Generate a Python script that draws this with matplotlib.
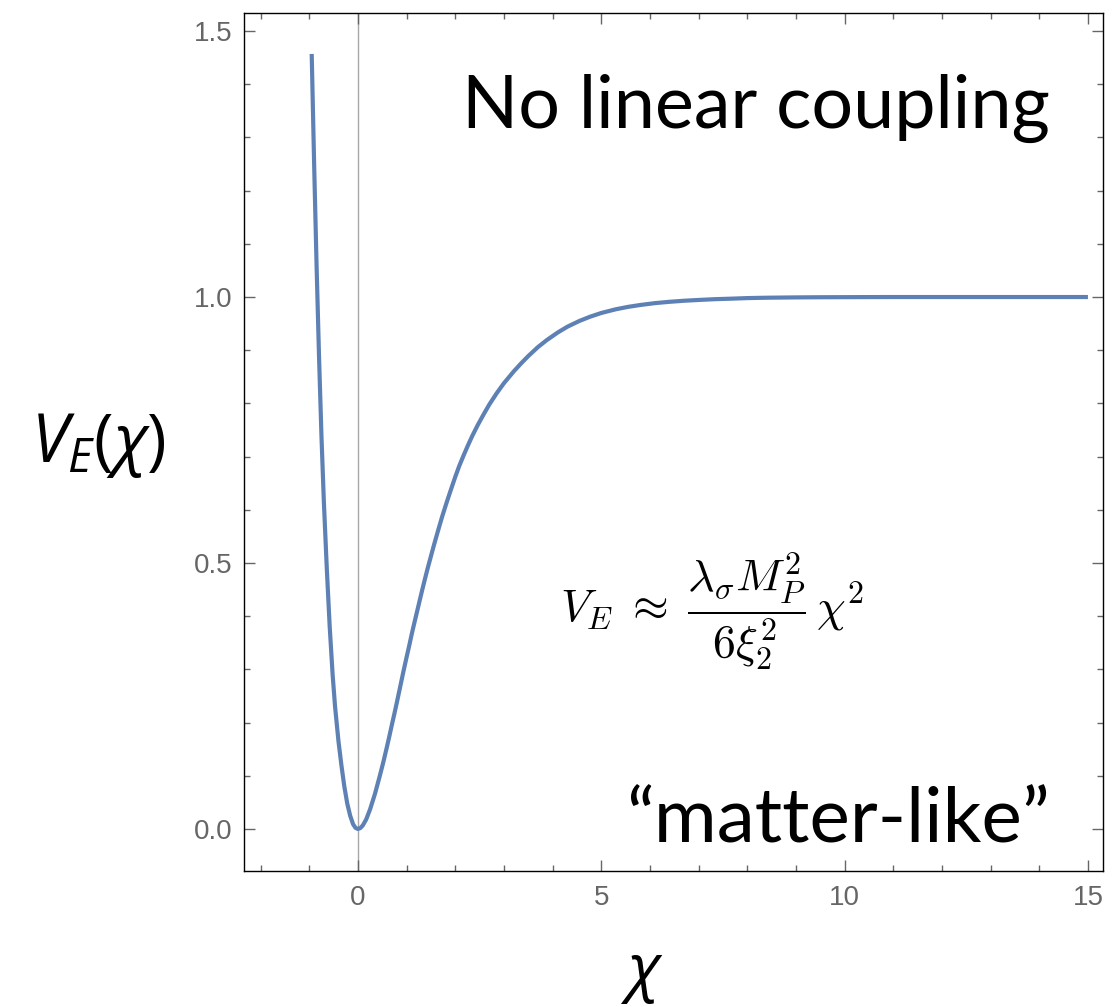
import numpy as np
import matplotlib
matplotlib.use('Agg')
import matplotlib.pyplot as plt
from matplotlib.ticker import MultipleLocator

#%% Potential V_E(chi)
chi = [-0.95, -0.90, -0.85, -0.80, -0.75, -0.70, -0.64, -0.58, -0.52, -0.47,
       -0.40, -0.34, -0.28, -0.22, -0.16, -0.10, -0.05, 0.0, 0.05, 0.10,
       0.17, 0.25, 0.35, 0.45, 0.52, 0.59, 0.65, 0.70, 0.75, 0.80,
       0.87, 0.93, 1.0, 1.05, 1.1, 1.14, 1.2, 1.26, 1.32, 1.38,
       1.43, 1.48, 1.56, 1.65, 1.73, 1.82, 1.9, 2.0, 2.08, 2.17,
       2.26, 2.35, 2.46, 2.58, 2.7, 2.85, 3.0, 3.2, 3.35, 3.5,
       3.7, 3.88, 4.1, 4.3, 4.55, 4.77, 5.0, 5.3, 5.55, 5.8,
       6.1, 6.4, 6.7, 7.0, 7.35, 7.7, 8.0, 8.4, 9.0, 9.5,
       10.5, 11.0, 13.0, 15.0]
V_E = [1.457, 1.25, 1.06, 0.89, 0.74, 0.615, 0.49, 0.38, 0.29, 0.23,
       0.165, 0.12, 0.08, 0.048, 0.025, 0.009, 0.002, 0.0, 0.0017, 0.0066,
       0.018, 0.037, 0.066, 0.1, 0.125, 0.152, 0.176, 0.197, 0.217, 0.238,
       0.268, 0.294, 0.323, 0.343, 0.364, 0.38, 0.403, 0.426, 0.449, 0.471,
       0.489, 0.506, 0.533, 0.562, 0.587, 0.613, 0.635, 0.662, 0.682, 0.702,
       0.721, 0.739, 0.759, 0.779, 0.798, 0.819, 0.838, 0.860, 0.875, 0.889,
       0.906, 0.919, 0.933, 0.944, 0.955, 0.963, 0.970, 0.977, 0.9815, 0.985,
       0.9885, 0.991, 0.993, 0.9945, 0.996, 0.997, 0.998, 0.9987, 0.9993, 0.9996,
       0.9999, 1.0, 1.0, 1.0]

x_ticks = [0, 5, 10, 15]
y_ticks = [0.0, 0.5, 1.0, 1.5]

#%% Style
plt.rcParams['mathtext.fontset'] = 'custom'
plt.rcParams['mathtext.rm'] = 'Open Sans'
plt.rcParams['mathtext.it'] = 'Open Sans:italic'
plt.rcParams['mathtext.bf'] = 'Open Sans:bold'

curve_col = '#5e81b5'
tick_col = '#666666'

fig = plt.figure(figsize=(11.17, 10.07), dpi=100)
ax = fig.add_axes([0.2184, 0.1351, 0.9875 - 0.2184, 0.9871 - 0.1351])

ax.axvline(0, color='#a8a8a8', lw=1.0, zorder=1)
ax.plot(chi, V_E, color=curve_col, lw=3.0, solid_capstyle='butt',
        solid_joinstyle='round', zorder=3)

ax.set_xlim(-2.342, 15.31)
ax.set_ylim(-0.079, 1.534)

ax.set_xticks(x_ticks)
ax.set_xticklabels(['0', '5', '10', '15'])
ax.set_yticks(y_ticks)
ax.set_yticklabels(['0.0', '0.5', '1.0', '1.5'])
ax.xaxis.set_minor_locator(MultipleLocator(1))
ax.yaxis.set_minor_locator(MultipleLocator(0.1))

ax.tick_params(which='both', direction='in', top=True, right=True,
               color=tick_col, width=1.0)
ax.tick_params(which='major', length=8)
ax.tick_params(which='minor', length=4.5)
ax.tick_params(axis='x', which='major', pad=10)
ax.tick_params(axis='y', which='major', pad=8)
for lab in ax.get_xticklabels() + ax.get_yticklabels():
    lab.set_fontfamily('Liberation Sans')
    lab.set_fontsize(20)
    lab.set_color(tick_col)

for s in ax.spines.values():
    s.set_linewidth(1.0)
    s.set_color('black')

#%% Annotations
ax.text(14.22, 1.318, 'No linear coupling', family='Lato', fontsize=53,
        ha='right', va='baseline')
ax.text(14.22, -0.026, '\u201cmatter-like\u201d', family='Lato', fontsize=55,
        ha='right', va='baseline')
ax.text(7.27, 0.41,
        r'$V_E \;\approx\; \dfrac{\lambda_\sigma M_P^2}{6\xi_2^2}\,\chi^2$',
        math_fontfamily='cm', fontsize=33, ha='center', va='center')

fig.text(98 / 1117, 1 - 445 / 1007, r'$V_E(\chi)$', fontsize=48,
         ha='center', va='center')
fig.text(642 / 1117, 1 - 975 / 1007, r'$\chi$', fontsize=46,
         ha='center', va='center')

fig.savefig('out.png', dpi=100)
